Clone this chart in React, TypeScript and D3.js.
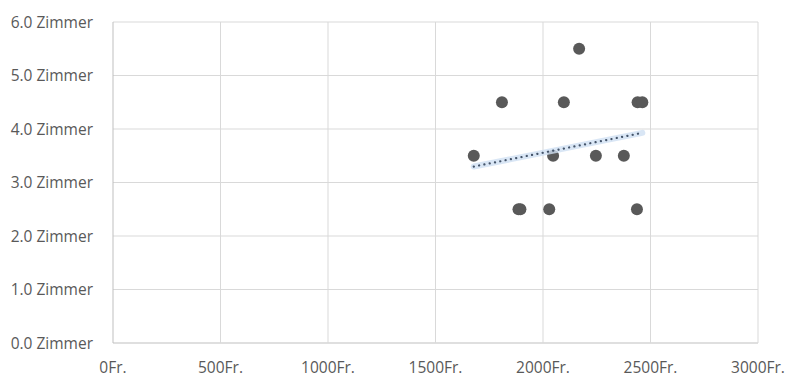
import React from "react";
import * as d3 from "d3";

const priceFr = [2168, 1809, 2097, 2440, 2462, 1678, 2047, 2246, 2376, 1886, 1895, 2029, 2437];
const rooms = [5.5, 4.5, 4.5, 4.5, 4.5, 3.5, 3.5, 3.5, 3.5, 2.5, 2.5, 2.5, 2.5];
const xTicks = [0, 500, 1000, 1500, 2000, 2500, 3000];
const yTicks = [0, 1, 2, 3, 4, 5, 6];

const W = 791;
const H = 379;
const margin = { left: 113, right: 33, top: 22, bottom: 36 };

export default function App() {
  const x = d3.scaleLinear().domain([0, 3000]).range([margin.left, W - margin.right]);
  const y = d3.scaleLinear().domain([0, 6]).range([H - margin.bottom, margin.top]);

  const n = priceFr.length;
  const mx = d3.mean(priceFr)!;
  const my = d3.mean(rooms)!;
  let sxy = 0, sxx = 0;
  for (let i = 0; i < n; i++) {
    sxy += (priceFr[i] - mx) * (rooms[i] - my);
    sxx += (priceFr[i] - mx) ** 2;
  }
  const slope = sxy / sxx;
  const icpt = my - slope * mx;
  const [x0, x1] = d3.extent(priceFr) as [number, number];
  const trend = d3.line<number>().x((d) => x(d)).y((d) => y(icpt + slope * d))([x0, x1])!;

  const font = "'Open Sans', 'Noto Sans', sans-serif";
  const grid = "#d9d9d9";
  const textCol = "#595959";

  return (
    <svg width={W} height={H} style={{ position: "absolute", left: 0, top: 0, background: "#fff" }}>
      <rect x={0} y={0} width={W} height={H} fill="#fff" />
      {yTicks.map((t) => (
        <line key={"gy" + t} x1={x(0)} x2={x(3000)} y1={y(t)} y2={y(t)} stroke={t === 0 ? "#bfbfbf" : grid} strokeWidth={1} />
      ))}
      {xTicks.map((t) => (
        <line key={"gx" + t} x1={x(t)} x2={x(t)} y1={y(0)} y2={y(6)} stroke={t === 0 ? "#bfbfbf" : grid} strokeWidth={1} />
      ))}
      {yTicks.map((t) => (
        <text key={"ly" + t} x={93} y={y(t)} dy="0.36em" textAnchor="end" fontFamily={font} fontSize={15.5} fill={textCol}>
          {t.toFixed(1)} Zimmer
        </text>
      ))}
      {xTicks.map((t) => (
        <text key={"lx" + t} x={x(t)} y={373} textAnchor="middle" fontFamily={font} fontSize={15.5} fill={textCol}>
          {t}Fr.
        </text>
      ))}
      {priceFr.map((p, i) => (
        <circle key={"p" + i} cx={x(p)} cy={y(rooms[i])} r={6} fill="#595959" />
      ))}
      <path d={trend} stroke="#cfe0f3" strokeOpacity={0.8} strokeWidth={6} strokeLinecap="round" fill="none" />
      <path d={trend} stroke="#44546a" strokeWidth={2.2} strokeDasharray="0.1 5.3" strokeLinecap="round" fill="none" />
    </svg>
  );
}
